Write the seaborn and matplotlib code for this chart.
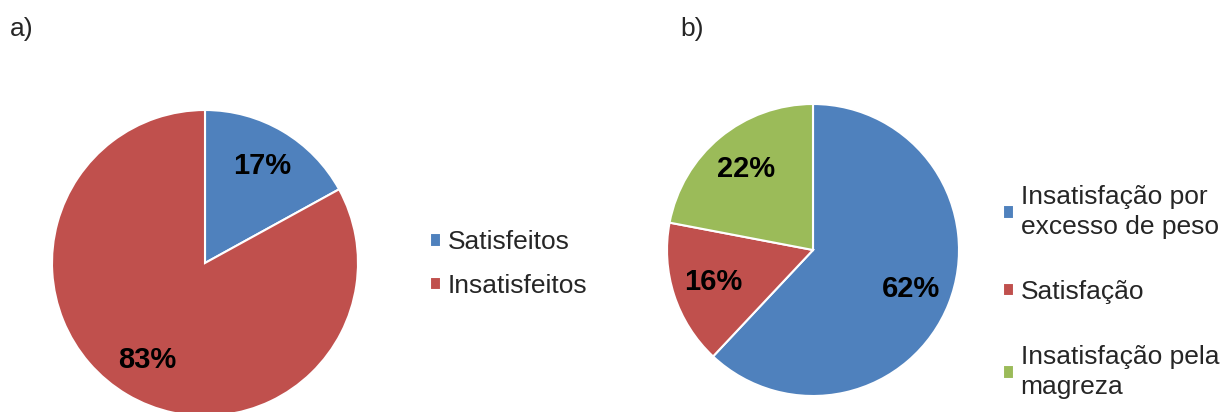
import numpy as np
import pandas as pd
import seaborn as sns
import matplotlib.pyplot as plt

# a) overall satisfaction
labels_a = ["Satisfeitos", "Insatisfeitos"]
values_a = [17, 83]
colors_a = ["#4F81BD", "#C0504D"]

# b) type of dissatisfaction
labels_b = ["Insatisfação por\nexcesso de peso", "Satisfação", "Insatisfação pela\nmagreza"]
values_b = [62, 16, 22]
colors_b = ["#4F81BD", "#C0504D", "#9BBB59"]

sns.set_theme(style="white")
plt.rcParams["font.family"] = ["Liberation Sans", "DejaVu Sans"]

W, H = 1227, 412
fig = plt.figure(figsize=(W / 100, H / 100), dpi=100)

# pie axes placed in pixel terms: center and radius
ax_a = fig.add_axes([(205 - 153) / W, (H - 263 - 153) / H, 306 / W, 306 / H])
ax_b = fig.add_axes([(813 - 146) / W, (H - 250 - 146) / H, 292 / W, 292 / H])

df_a = pd.DataFrame({"label": labels_a, "value": values_a})
df_b = pd.DataFrame({"label": labels_b, "value": values_b})

wedge_sets = []
for ax, df, cols, pd_ in [(ax_a, df_a, colors_a, 0.74), (ax_b, df_b, colors_b, 0.72)]:
    wedges, texts, autotexts = ax.pie(
        df["value"], colors=cols, startangle=90, counterclock=False,
        autopct="%1.0f%%", pctdistance=pd_,
        wedgeprops=dict(edgecolor="white", linewidth=1.5),
        textprops=dict(fontsize=21, fontweight="bold", color="black"),
    )
    ax.set_xlim(-1, 1)
    ax.set_ylim(-1, 1)
    ax.set_aspect("equal")
    ax.axis("off")
    wedge_sets.append(wedges)

leg_kw = dict(frameon=False, fontsize=19, handlelength=0.42, handleheight=0.42,
              handletextpad=0.25, borderpad=0, borderaxespad=0)
fig.legend(wedge_sets[0], labels_a, loc="center left",
           bbox_to_anchor=(430 / W, (H - 264) / H), labelspacing=0.75, **leg_kw)
leg_b = fig.legend(wedge_sets[1], labels_b, loc="center left",
                   bbox_to_anchor=(1003 / W, (H - 292) / H), labelspacing=1.55, **leg_kw)
for t in leg_b.get_texts():
    t.set_linespacing(1.3)

fig.text(10 / W, (H - 29) / H, "a)", fontsize=19, va="center", ha="left")
fig.text(680 / W, (H - 29) / H, "b)", fontsize=19, va="center", ha="left")

fig.savefig("out.png", dpi=100, facecolor="white")
